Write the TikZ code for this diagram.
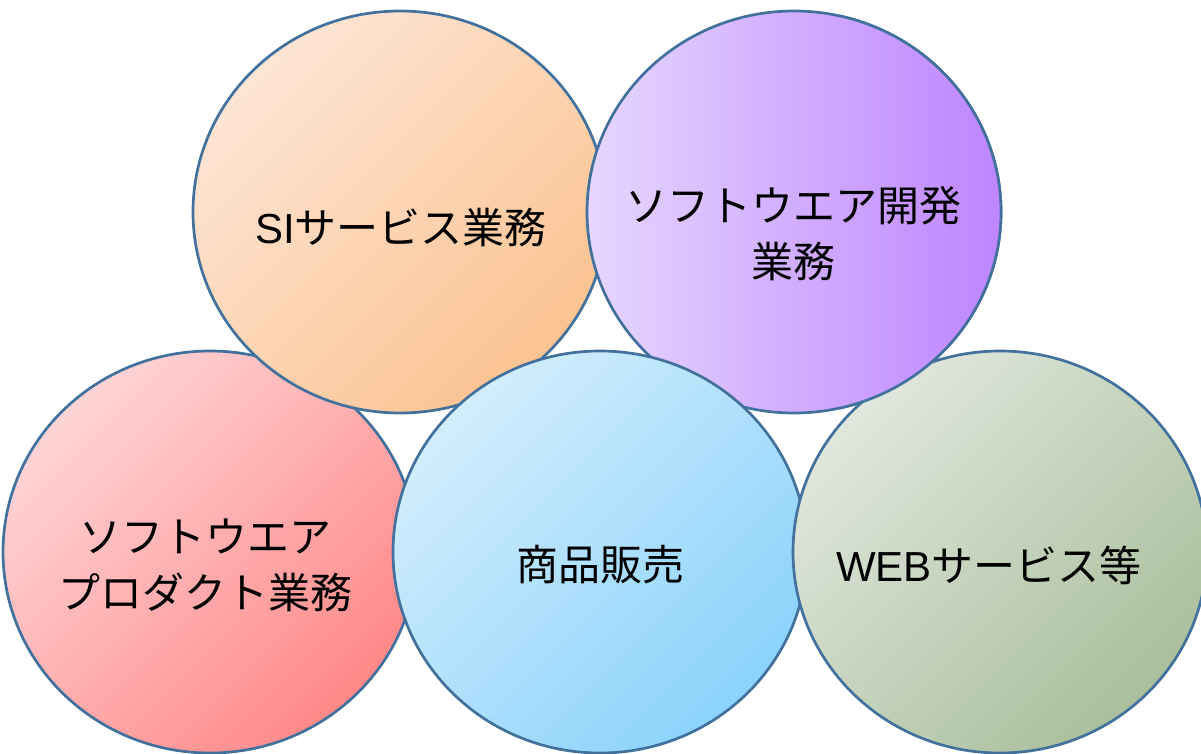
\documentclass[tikz,border=0pt]{standalone}
\usepackage{fontspec}
\newfontfamily\jp{Noto Sans CJK JP}
\newfontfamily\lat{Liberation Sans}
\definecolor{edge}{HTML}{41719C}
\definecolor{orA}{HTML}{FEE5D5}\definecolor{orB}{HTML}{FBC391}
\definecolor{puA}{HTML}{E6D6FF}\definecolor{puB}{HTML}{BE85FF}
\definecolor{piA}{HTML}{FFD4D6}\definecolor{piB}{HTML}{FF8888}
\definecolor{blA}{HTML}{D2EDFD}\definecolor{blB}{HTML}{8BD3FB}
\definecolor{grA}{HTML}{E0E7DD}\definecolor{grB}{HTML}{A9BF9C}
\tikzset{
  bubble/.style={draw=edge, line width=2.7pt},
  diag/.style 2 args={top color=#1, bottom color=#2, shading angle=45},
  lbl/.style={font=\jp\fontsize{42}{56}\selectfont, align=center, text=black, inner sep=0pt}
}
\begin{document}
\begin{tikzpicture}[x=1pt,y=-1pt]
\useasboundingbox (0,0) rectangle (1201,754);
\clip (0,0) rectangle (1201,754);
% pink
\path[bubble, diag={piA}{piB}] (210,552) ellipse [x radius=207pt, y radius=201pt];
% orange
\path[bubble, diag={orA}{orB}] (400,212) ellipse [x radius=207pt, y radius=201pt];
% purple
\path[bubble, left color=puA, right color=puB] (794,212) ellipse [x radius=207pt, y radius=201pt];
% blue
\path[bubble, diag={blA}{blB}] (600,552) ellipse [x radius=207pt, y radius=201pt];
% green
\path[bubble, diag={grA}{grB}] (1000,552) ellipse [x radius=207pt, y radius=201pt];
% purple over green in their small overlap
\begin{scope}
\clip (840,0) rectangle (1201,440);
\path[bubble, left color=puA, right color=puB] (794,212) ellipse [x radius=207pt, y radius=201pt];
\end{scope}
\node[lbl] (si) at (401,228) {{\lat SI}サービス業務};
\node[lbl] (sd) at (793,234) {ソフトウエア開発\\業務};
\node[lbl] (sp) at (205,565) {ソフトウエア\\プロダクト業務};
\node[lbl] (sh) at (600,565) {商品販売};
\node[lbl] (web) at (989,565) {{\lat WEB}サービス等};
\end{tikzpicture}
\end{document}
